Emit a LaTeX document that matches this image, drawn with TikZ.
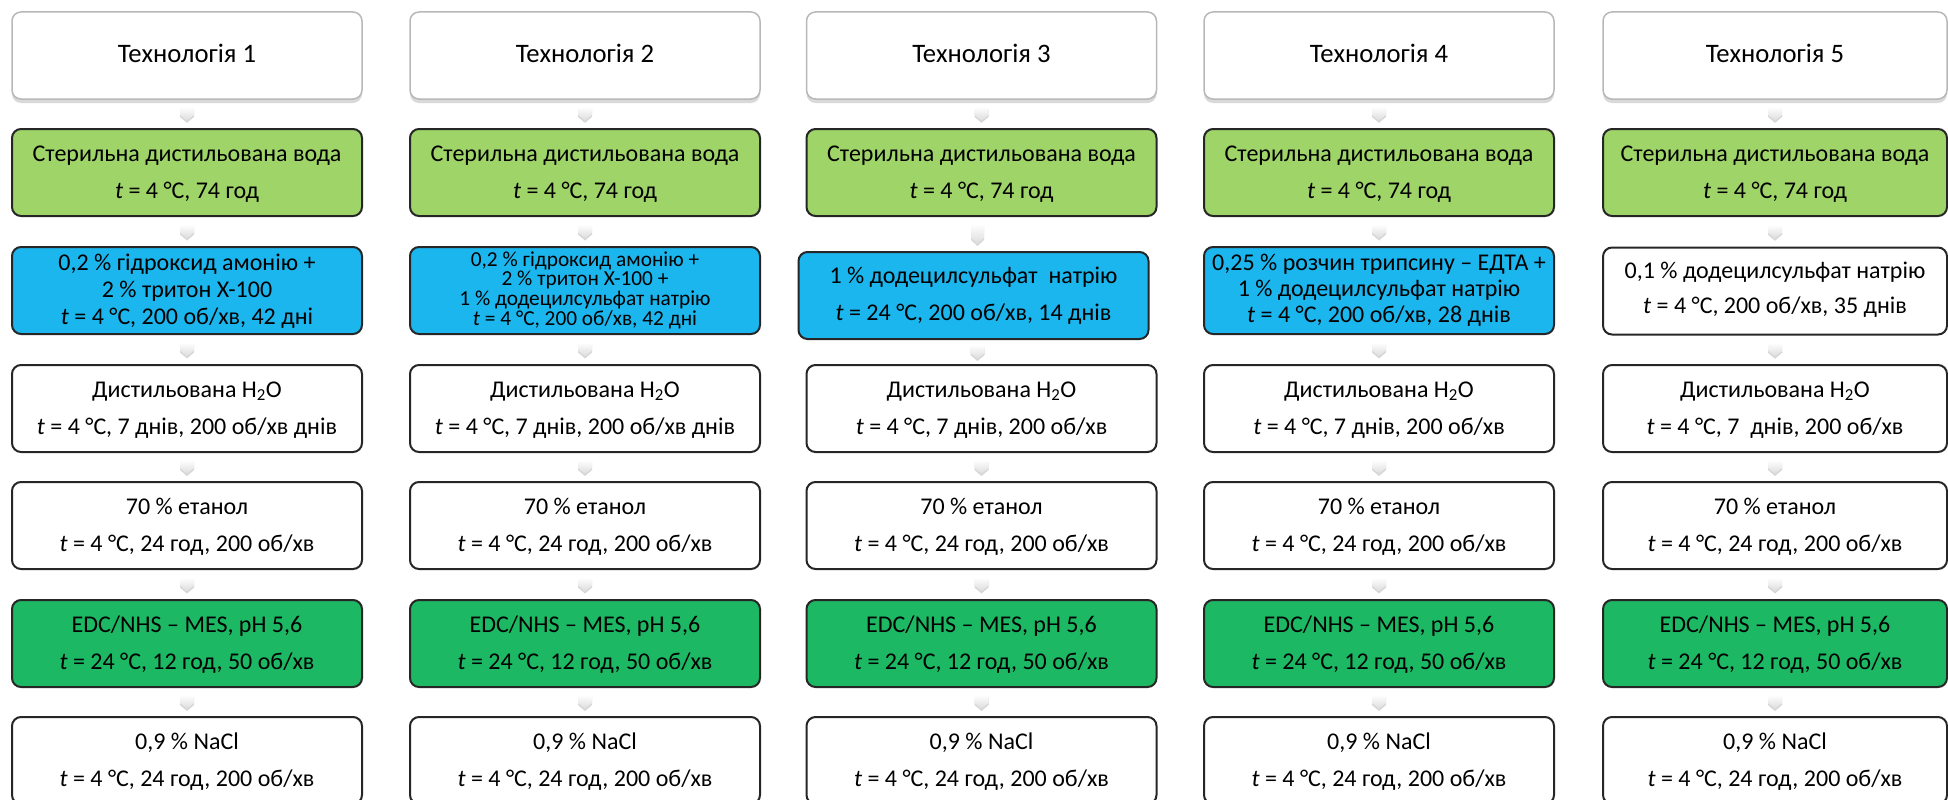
\documentclass[tikz,border=0pt]{standalone}
\usepackage{fontspec}
\setmainfont{Carlito}
\usetikzlibrary{calc,shadows}
\definecolor{lgreen}{HTML}{9ED468}
\definecolor{dgreen}{HTML}{1DB863}
\definecolor{cblue}{HTML}{1CB6EE}
\newcommand\tv{\textit{t}}
\newcommand\fsz[1]{\fontsize{#1}{#1}\selectfont}
\newcommand\twobox[7]{%
  \node[#2, minimum width=#5, minimum height=87] (#1) at (#3,#4) {};
  \node[txt] at ($(#1.center)+(0,-11.5)$) {#6};
  \node[txt] at ($(#1.center)+(0,25.5)$) {#7};
}
\newcommand\chevshape[1]{%
  \begin{scope}[shift={(#1)}]
    \fill[black, opacity=0.16] (-7,-5) -- (7,-5) -- (7,3) -- (0,9) -- (-7,3) -- cycle;
    \shade[top color=white, bottom color=black!14] (-7,-7) -- (7,-7) -- (7,1) -- (0,7) -- (-7,1) -- cycle;
  \end{scope}
}
\newcommand\chev[2]{%
  \path (#1.south) -- (#2.north) coordinate[pos=0.5] (#1-#2);
  \chevshape{#1-#2}
}
\newcommand\chevtall[2]{%
  \path (#1.south) -- (#2.north) coordinate[pos=0.5] (#1-#2);
  \begin{scope}[shift={(#1-#2)}]
    \fill[black, opacity=0.16] (-6.5,-8) -- (6.5,-8) -- (6.5,6) -- (0,12) -- (-6.5,6) -- cycle;
    \shade[top color=white, bottom color=black!14] (-6.5,-10) -- (6.5,-10) -- (6.5,4) -- (0,10) -- (-6.5,4) -- cycle;
  \end{scope}
}
\begin{document}
\begin{tikzpicture}[x=1pt, y=-1pt,
  txt/.style={anchor=base, inner sep=0pt, font=\fsz{24}},
  bx/.style={draw=black!85, line width=2pt, rounded corners=9pt, inner sep=0pt},
  hdr/.style={draw=black!28, line width=1.5pt, rounded corners=9pt, fill=white, inner sep=0pt,
    drop shadow={shadow xshift=0pt, shadow yshift=-4pt, opacity=0.3}},
  lg/.style={bx, fill=lgreen},
  dg/.style={bx, fill=dgreen},
  bl/.style={bx, fill=cblue},
  wh/.style={bx, fill=white}]
\useasboundingbox (0,0) rectangle (1948,800);
\clip (0,0) rectangle (1948,800);

\foreach \c/\x/\w in {1/187/350, 2/585/350, 3/981.5/350, 4/1379/350, 5/1775/344} {
  \node[hdr, minimum width=\w, minimum height=87] (h\c) at (\x,55.5) {};
  \node[txt, font=\fsz{26.67}] at ($(h\c.center)+(0,7.5)$) {Технологія \c};
  \twobox{g\c}{lg}{\x}{172.5}{\w}{Стерильна дистильована вода}{\tv{} = 4 °C, 74 год}
  \twobox{e\c}{wh}{\x}{525.5}{\w}{70 \% етанол}{\tv{} = 4 °C, 24 год, 200 об/хв}
  \twobox{m\c}{dg}{\x}{643.5}{\w}{EDC/NHS – MES, pH 5,6}{\tv{} = 24 °C, 12 год, 50 об/хв}
  \twobox{n\c}{wh}{\x}{760.5}{\w}{0,9 \% NaCl}{\tv{} = 4 °C, 24 год, 200 об/хв}
}

% row 3
\node[bl, minimum width=350, minimum height=87] (b1) at (187,290.5) {};
\node[txt] at ($(b1.center)+(0,-20.5)$) {0,2 \% гідроксид амонію +};
\node[txt] at ($(b1.center)+(0,6.5)$) {2 \% тритон X-100};
\node[txt] at ($(b1.center)+(0,33.5)$) {\tv{} = 4 °C, 200 об/хв, 42 дні};

\node[bl, minimum width=350, minimum height=87] (b2) at (585,290.5) {};
\node[txt, font=\fsz{21.33}] at ($(b2.center)+(0,-24.5)$) {0,2 \% гідроксид амонію +};
\node[txt, font=\fsz{21.33}] at ($(b2.center)+(0,-5)$) {2 \% тритон X-100 +};
\node[txt, font=\fsz{21.33}] at ($(b2.center)+(0,14.5)$) {1 \% додецилсульфат натрію};
\node[txt, font=\fsz{21.33}] at ($(b2.center)+(0,34.5)$) {\tv{} = 4 °C, 200 об/хв, 42 дні};

\node[bl, minimum width=350, minimum height=87] (b3) at (973.5,295.5) {};
\node[txt] at ($(b3.center)+(0,-12)$) {1 \% додецилсульфат\ \ натрію};
\node[txt] at ($(b3.center)+(0,25)$) {\tv{} = 24 °C, 200 об/хв, 14 днів};

\node[bl, minimum width=350, minimum height=87] (b4) at (1379,290.5) {};
\node[txt] at ($(b4.center)+(0,-20)$) {0,25 \% розчин трипсину – ЕДТА +};
\node[txt] at ($(b4.center)+(0,6)$) {1 \% додецилсульфат натрію};
\node[txt] at ($(b4.center)+(0,32)$) {\tv{} = 4 °C, 200 об/хв, 28 днів};

\node[wh, minimum width=344, minimum height=87] (b5) at (1775,291) {};
\node[txt] at ($(b5.center)+(0,-12.7)$) {0,1 \% додецилсульфат натрію};
\node[txt] at ($(b5.center)+(0,22.3)$) {\tv{} = 4 °C, 200 об/хв, 35 днів};

% row 4
\twobox{d1}{wh}{187}{408.5}{350}{Дистильована H\textsubscript{2}O}{\tv{} = 4 °C, 7 днів, 200 об/хв днів}
\twobox{d2}{wh}{585}{408.5}{350}{Дистильована H\textsubscript{2}O}{\tv{} = 4 °C, 7 днів, 200 об/хв днів}
\twobox{d3}{wh}{981.5}{408.5}{350}{Дистильована H\textsubscript{2}O}{\tv{} = 4 °C, 7 днів, 200 об/хв}
\twobox{d4}{wh}{1379}{408.5}{350}{Дистильована H\textsubscript{2}O}{\tv{} = 4 °C, 7 днів, 200 об/хв}
\twobox{d5}{wh}{1775}{408.5}{344}{Дистильована H\textsubscript{2}O}{\tv{} = 4 °C, 7\ \ днів, 200 об/хв}

% connectors
\foreach \c in {1,2,4,5} { \chev{g\c}{b\c} }
\chevtall{g3}{b3}
\foreach \c in {1,...,5} {
  \chev{h\c}{g\c}
  \chev{b\c}{d\c}
  \chev{d\c}{e\c}
  \chev{e\c}{m\c}
  \chev{m\c}{n\c}
}
\end{tikzpicture}
\end{document}
